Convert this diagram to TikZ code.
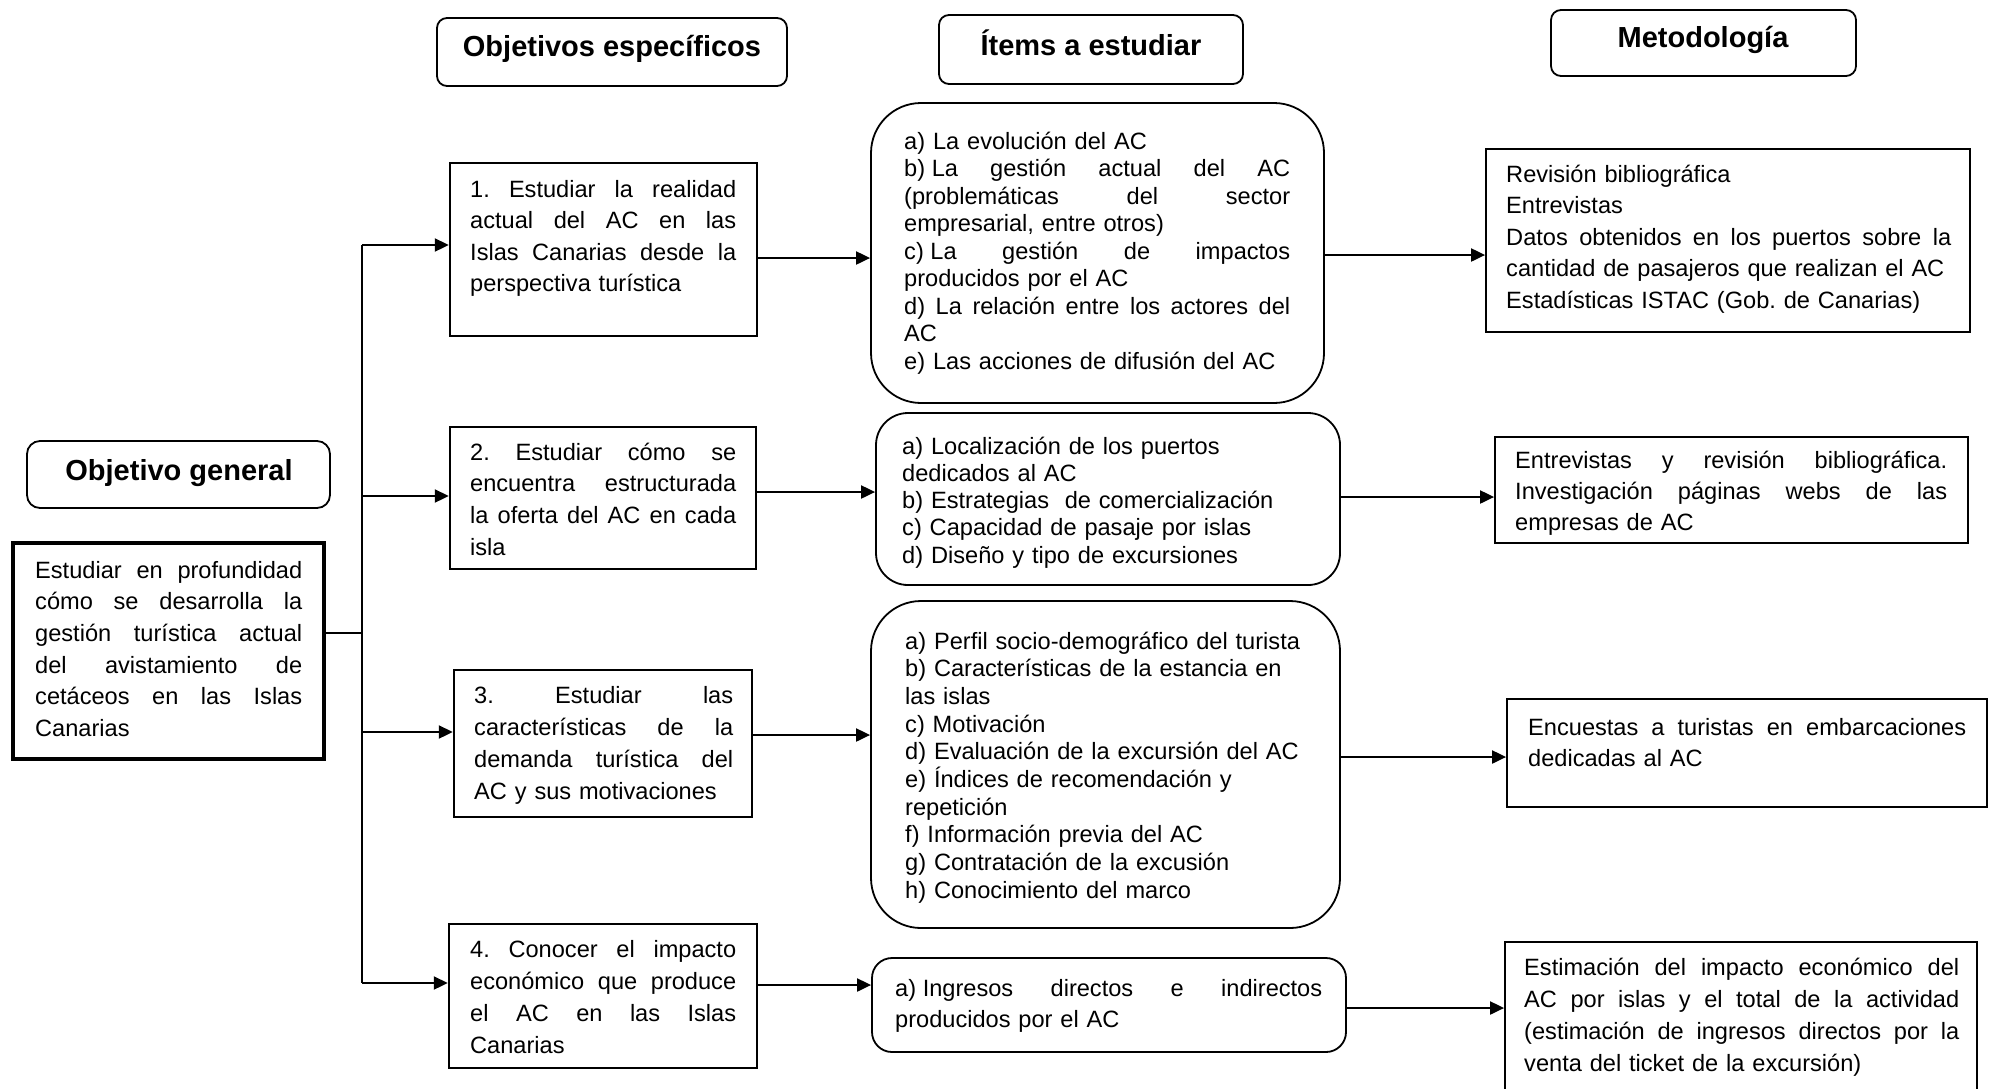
\documentclass[tikz,border=0pt]{standalone}
\usepackage{fontspec}
\setmainfont{Liberation Sans}
\usetikzlibrary{arrows.meta}
\newcommand{\jw}{100pt}
\newcommand{\jl}[1]{\leavevmode\hbox to \jw{\spaceskip=0.278em plus 10em\relax #1}}
\frenchspacing
\begin{document}
\begin{tikzpicture}[x=1pt,y=-1pt,
  hdr/.style={draw, line width=1.8pt, rounded corners=10pt, inner sep=0pt},
  lbox/.style={draw, line width=4pt, inner sep=0pt},
  obox/.style={draw, line width=2.4pt, inner sep=0pt},
  ibox/.style={draw, line width=1.8pt, inner sep=0pt},
  mbox/.style={draw, line width=1.8pt, inner sep=0pt},
  htxt/.style={anchor=base, inner sep=0pt, font=\fontsize{29}{34}\selectfont\bfseries},
  btxt/.style={anchor=base west, inner sep=0pt, align=left, font=\fontsize{23.6}{#1}\selectfont\frenchspacing},
  tw/.style={text width=#1, execute at begin node={\renewcommand{\jw}{#1}}},
  ln/.style={line width=2pt},
  arr/.style={line width=2pt, -{Triangle[length=14pt,width=13pt]}}]
\useasboundingbox (0,0) rectangle (1993,1088);

% headers
\node[hdr, minimum width=350pt, minimum height=68pt] (hOE) at (612,52) {};
\node[htxt] (hOEt) at (612,56) {Objetivos específicos};
\node[hdr, minimum width=304pt, minimum height=69pt] (hIt) at (1091,49.5) {};
\node[htxt] (hItt) at (1091,55) {Ítems a estudiar};
\node[hdr, minimum width=305pt, minimum height=66pt] (hMe) at (1703.5,43) {};
\node[htxt] (hMet) at (1703,47) {Metodología};
\node[hdr, rounded corners=13pt, minimum width=303pt, minimum height=67pt] (hOG) at (178.5,474.5) {};
\node[htxt] (hOGt) at (179,480) {Objetivo general};

% left box
\node[lbox, minimum width=311pt, minimum height=216pt] (lb) at (168.5,651) {};
\node[btxt=31.7, tw=267pt] (lbt) at (35,578) {\jl{Estudiar en profundidad}\\\jl{cómo se desarrolla la}\\\jl{gestión turística actual}\\\jl{del avistamiento de}\\\jl{cetáceos en las Islas}\\Canarias};

% objetivos especificos
\node[obox, minimum width=307pt, minimum height=173pt] (o1) at (603.5,249.5) {};
\node[btxt=31.5, tw=266pt] (o1t) at (470,197) {\jl{1. Estudiar la realidad}\\\jl{actual del AC en las}\\\jl{Islas Canarias desde la}\\perspectiva turística};
\node[obox, minimum width=306pt, minimum height=142pt] (o2) at (603,498) {};
\node[btxt=31.8, tw=266pt] (o2t) at (470,460) {\jl{2. Estudiar cómo se}\\\jl{encuentra estructurada}\\\jl{la oferta del AC en cada}\\isla};
\node[obox, minimum width=298pt, minimum height=147pt] (o3) at (603,743.5) {};
\node[btxt=32, tw=259pt] (o3t) at (474,703) {\jl{3. Estudiar las}\\\jl{características de la}\\\jl{demanda turística del}\\AC y sus motivaciones};
\node[obox, minimum width=308pt, minimum height=144pt] (o4) at (603,996) {};
\node[btxt=32.3, tw=266pt] (o4t) at (470,957) {\jl{4. Conocer el impacto}\\\jl{económico que produce}\\\jl{el AC en las Islas}\\Canarias};

% items
\node[ibox, rounded corners=50pt, minimum width=453pt, minimum height=300pt] (i1) at (1097.5,253) {};
\node[btxt=27.5, tw=386pt] (i1t) at (904,149) {a) La evolución del AC\\\jl{\hbox{b) La} gestión actual del AC}\\\jl{(problemáticas del sector}\\empresarial, entre otros)\\\jl{\hbox{c) La} gestión de impactos}\\producidos por el AC\\\jl{d) La relación entre los actores del}\\AC\\e) Las acciones de difusión del AC};
\node[ibox, rounded corners=32pt, minimum width=464pt, minimum height=172pt] (i2) at (1108,499) {};
\node[btxt=27.3, tw=420pt] (i2t) at (902,454) {a) Localización de los puertos\\dedicados al AC\\b) Estrategias\ \ de comercialización\\c) Capacidad de pasaje por islas\\d) Diseño y tipo de excursiones};
\node[ibox, rounded corners=50pt, minimum width=469pt, minimum height=327pt] (i3) at (1105.5,764.5) {};
\node[btxt=27.7, tw=420pt] (i3t) at (905,649) {a) Perfil socio-demográfico del turista\\b) Características de la estancia en\\las islas\\c) Motivación\\d) Evaluación de la excursión del AC\\e) Índices de recomendación y\\repetición\\f) Información previa del AC\\g) Contratación de la excusión\\h) Conocimiento del marco};
\node[ibox, rounded corners=20pt, minimum width=474pt, minimum height=94pt] (i4) at (1109,1005) {};
\node[btxt=31, tw=427pt] (i4t) at (895,996) {\jl{\hbox{a) Ingresos} directos e indirectos}\\producidos por el AC};

% metodologia
\node[mbox, minimum width=484pt, minimum height=183pt] (m1) at (1728,240.5) {};
\node[btxt=31.6, tw=445pt] (m1t) at (1506,182) {Revisión bibliográfica\\Entrevistas\\\jl{Datos obtenidos en los puertos sobre la}\\cantidad de pasajeros que realizan el AC\\Estadísticas ISTAC (Gob. de Canarias)};
\node[mbox, minimum width=473pt, minimum height=106pt] (m2) at (1731.5,490) {};
\node[btxt=31, tw=432pt] (m2t) at (1515,468) {\jl{Entrevistas y revisión bibliográfica.}\\\jl{Investigación páginas webs de las}\\empresas de AC};
\node[mbox, minimum width=480pt, minimum height=108pt] (m3) at (1747,753) {};
\node[btxt=31, tw=438pt] (m3t) at (1528,735) {\jl{Encuestas a turistas en embarcaciones}\\dedicadas al AC};
\node[mbox, minimum width=472pt, minimum height=153pt] (m4) at (1741,1018.5) {};
\node[btxt=32, tw=435pt] (m4t) at (1524,975) {\jl{Estimación del impacto económico del}\\\jl{AC por islas y el total de la actividad}\\\jl{(estimación de ingresos directos por la}\\venta del ticket de la excursión)};

% trunk
\coordinate (tTop) at (362,245);
\coordinate (t2) at (362,496);
\coordinate (tMid) at (362,633);
\coordinate (t3) at (362,732);
\coordinate (tBot) at (362,983);
\draw[ln] (tTop) -- (tBot);
\draw[ln] (lb.east |- tMid) -- (tMid);
\draw[arr] (tTop) -- (tTop -| o1.west);
\draw[arr] (t2) -- (t2 -| o2.west);
\draw[arr] (t3) -- (t3 -| o3.west);
\draw[arr] (tBot) -- (tBot -| o4.west);

% objetivos -> items
\coordinate (a1) at (0,258);
\coordinate (a2) at (0,492);
\coordinate (a3) at (0,735);
\coordinate (a4) at (0,985);
\draw[arr] (o1.east |- a1) -- (i1.west |- a1);
\draw[arr] (o2.east |- a2) -- (i2.west |- a2);
\draw[arr] (o3.east |- a3) -- (i3.west |- a3);
\draw[arr] (o4.east |- a4) -- (i4.west |- a4);

% items -> metodologia
\coordinate (b1) at (0,255);
\coordinate (b2) at (0,497);
\coordinate (b3) at (0,757);
\coordinate (b4) at (0,1008);
\draw[arr] (i1.east |- b1) -- (m1.west |- b1);
\draw[arr] (i2.east |- b2) -- (m2.west |- b2);
\draw[arr] (i3.east |- b3) -- (m3.west |- b3);
\draw[arr] (i4.east |- b4) -- (m4.west |- b4);
\end{tikzpicture}
\end{document}
